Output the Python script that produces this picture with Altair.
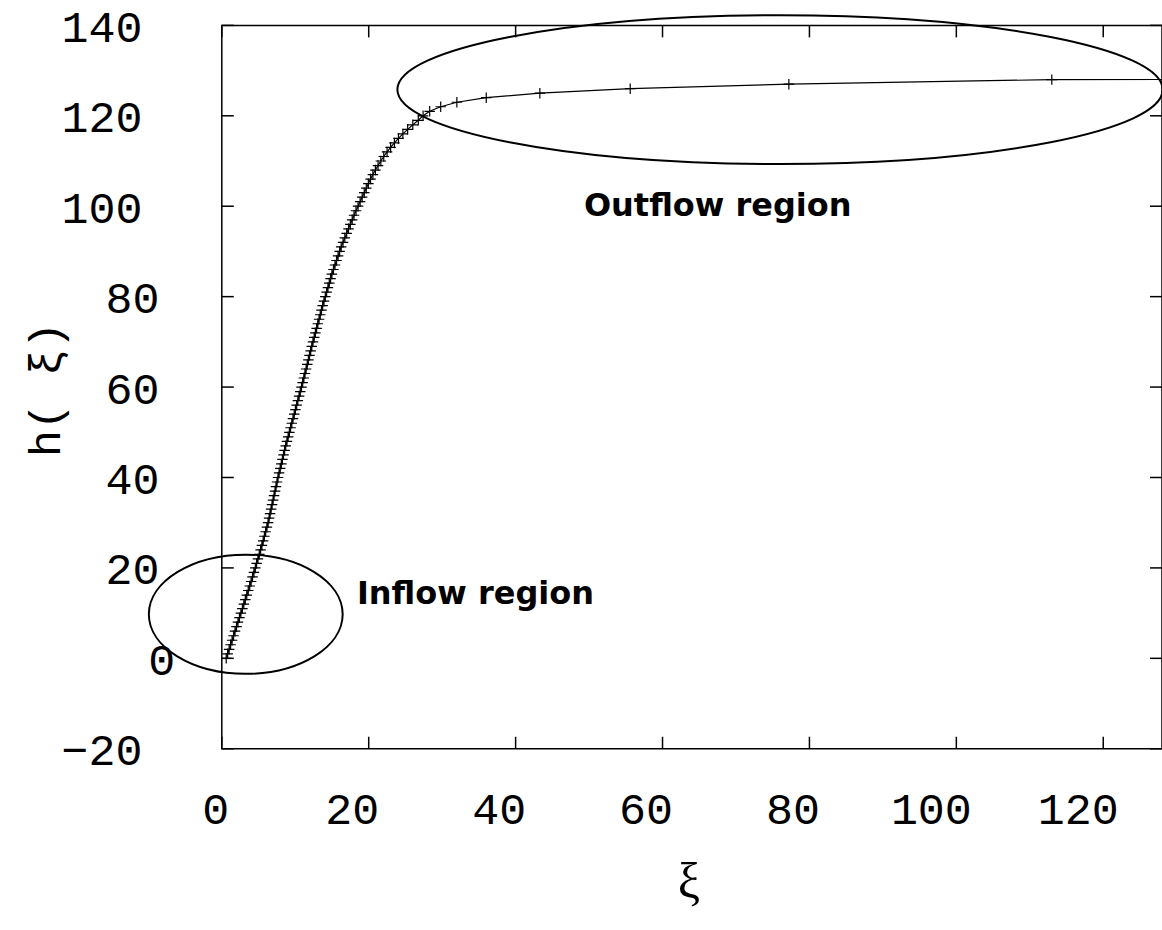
import altair as alt
import pandas as pd

# ---- data ----
H = [0, 1, 2, 3, 4, 5, 6, 7, 8, 9, 10, 11, 12, 13, 14, 15, 16, 17, 18, 19,
     20, 21, 22, 23, 24, 25, 26, 27, 28, 29, 30, 31, 32, 33, 34, 35, 36, 37, 38, 39,
     40, 41, 42, 43, 44, 45, 46, 47, 48, 49, 50, 51, 52, 53, 54, 55, 56, 57, 58, 59,
     60, 61, 62, 63, 64, 65, 66, 67, 68, 69, 70, 71, 72, 73, 74, 75, 76, 77, 78, 79,
     80, 81, 82, 83, 84, 85, 86, 87, 88, 89, 90, 91, 92, 93, 94, 95, 96, 97, 98, 99,
     100, 101, 102, 103, 104, 105, 106, 107, 108, 109, 110, 111, 112, 113, 114, 115,
     116, 117, 118, 119, 120, 121, 122, 123, 124, 125, 126, 127, 128]
XI = [0.6, 0.8, 1.0, 1.2, 1.4, 1.6, 1.8, 2.0, 2.2, 2.4, 2.6, 2.8, 3.0, 3.2, 3.4, 3.6,
      3.8, 3.99, 4.18, 4.37, 4.56, 4.74, 4.92, 5.1, 5.28, 5.46, 5.63, 5.8, 5.97, 6.14,
      6.3, 6.44, 6.57, 6.71, 6.84, 6.98, 7.11, 7.25, 7.38, 7.52, 7.65, 7.8, 7.95, 8.1,
      8.25, 8.4, 8.55, 8.7, 8.87, 9.03, 9.2, 9.36, 9.53, 9.69, 9.86, 10.02, 10.19, 10.35,
      10.52, 10.68, 10.85, 11.01, 11.17, 11.32, 11.48, 11.63, 11.79, 11.94, 12.1, 12.25,
      12.41, 12.58, 12.74, 12.91, 13.07, 13.24, 13.4, 13.57, 13.73, 13.91, 14.09, 14.27,
      14.45, 14.63, 14.81, 14.99, 15.2, 15.41, 15.62, 15.83, 16.04, 16.25, 16.5, 16.75,
      17.0, 17.25, 17.5, 17.75, 18.0, 18.27, 18.55, 18.83, 19.11, 19.39, 19.67, 19.95,
      20.25, 20.57, 20.91, 21.27, 21.65, 22.05, 22.5, 22.98, 23.5, 24.05, 24.65, 25.3,
      26.0, 26.75, 27.4, 28.3, 29.8, 32.0, 36.0, 43.3, 55.6, 77.2, 113.0]
# line continues beyond the visible frame
TAIL_XI = [200.0]
TAIL_H = [128.2]

X_TICKS = [0, 20, 40, 60, 80, 100, 120]
Y_TICKS = [-20, 0, 20, 40, 60, 80, 100, 120, 140]

ANNOT_TEXT = ["Outflow region", "Inflow region"]
ANNOT_XI = [49.3, 18.4]
ANNOT_H = [97.9, 12.1]

# ellipse centres (data units)
OUT_XI, OUT_H = [76.0], [125.8]
IN_XI, IN_H = [3.26], [9.75]

# ---- layout / style ----
W, HT = 941, 724
XDOM = [0, 128]
YDOM = [-20, 140]


def ellipse_path(r):
    k = 0.5523
    kr = k * r
    return (f"M-1,0C-1,{-kr:.4f},{-k},{-r:.4f},0,{-r:.4f}"
            f"C{k},{-r:.4f},1,{-kr:.4f},1,0"
            f"C1,{kr:.4f},{k},{r:.4f},0,{r:.4f}"
            f"C{-k},{r:.4f},-1,{kr:.4f},-1,0Z")


pts = pd.DataFrame({"xi": XI, "h": H})
line_df = pd.DataFrame({"xi": XI + TAIL_XI, "h": H + TAIL_H})
xt = pd.DataFrame({"xi": X_TICKS})
yt = pd.DataFrame({"h": Y_TICKS})
ann = pd.DataFrame({"t": ANNOT_TEXT, "xi": ANNOT_XI, "h": ANNOT_H})
out_e = pd.DataFrame({"xi": OUT_XI, "h": OUT_H})
in_e = pd.DataFrame({"xi": IN_XI, "h": IN_H})

xs = alt.Scale(domain=XDOM, nice=False, zero=False)
ys = alt.Scale(domain=YDOM, nice=False, zero=False)

x_axis = alt.Axis(
    values=X_TICKS, grid=False, domain=False, ticks=False, tickSize=0,
    labelFont="Liberation Mono", labelFontSize=45, labelColor="black",
    labelAlign="left", labelBaseline="middle", labelPadding=61,
    labelOffset={"condition": [{"test": "length(datum.label) >= 3", "value": -66},
                               {"test": "length(datum.label) == 2", "value": -44}],
                 "value": -20},
    labelFlush=False, labelOverlap=False, labelBound=False,
    title="ξ", titleFont="Liberation Serif", titleFontSize=50,
    titleFontWeight="normal", titleColor="black",
    titleX=467, titleY=134, titleAlign="center", titleBaseline="middle",
)
y_axis = alt.Axis(
    values=Y_TICKS, grid=False, domain=False, ticks=False, tickSize=0,
    labelFont="Liberation Mono", labelFontSize=45, labelColor="black",
    labelAlign="right", labelBaseline="middle", labelOffset=2,
    labelPadding={"condition": [{"test": "length(datum.label) >= 3", "value": 80},
                                {"test": "length(datum.label) == 2", "value": 63}],
                  "value": 47},
    labelFlush=False, labelOverlap=False, labelBound=False,
    title="h( ξ)", titleFont="Liberation Mono", titleFontSize=45,
    titleFontWeight="normal", titleColor="black", titleAngle=270,
    titleX=-176, titleY=364, titleAlign="center", titleBaseline="middle",
)

X = alt.X("xi:Q", scale=xs, axis=x_axis)
Y = alt.Y("h:Q", scale=ys, axis=y_axis)

line = alt.Chart(line_df).mark_line(color="black", strokeWidth=1.2, clip=True).encode(
    x=X, y=Y, order="h:Q",
)
marks = alt.Chart(pts).mark_point(
    shape="M-1,0L1,0M0,-1L0,1", size=110, filled=False, stroke="black",
    strokeWidth=1.2, opacity=1,
).encode(x=X, y=Y)

outflow = alt.Chart(out_e).mark_point(
    shape=ellipse_path(0.1945), size=766 ** 2, filled=False, stroke="black",
    strokeWidth=2, opacity=1,
).encode(x=X, y=Y)
inflow = alt.Chart(in_e).mark_point(
    shape=ellipse_path(0.615), size=194 ** 2, filled=False, stroke="black",
    strokeWidth=2, opacity=1,
).encode(x=X, y=Y)

labels = alt.Chart(ann).mark_text(
    font="DejaVu Sans", fontWeight="bold", fontSize=32, align="left",
    baseline="alphabetic", color="black",
).encode(x=X, y=Y, text="t:N")

tk = dict(color="black", strokeWidth=1.5)
xt_bot = alt.Chart(xt).mark_rule(**tk).encode(
    x=X, y=alt.value(HT), y2=alt.value(HT - 12))
xt_top = alt.Chart(xt).mark_rule(**tk).encode(
    x=X, y=alt.value(0), y2=alt.value(12))
yt_left = alt.Chart(yt).mark_rule(**tk).encode(
    y=Y, x=alt.value(0), x2=alt.value(12))
yt_right = alt.Chart(yt).mark_rule(**tk).encode(
    y=Y, x=alt.value(W), x2=alt.value(W - 12))

chart = alt.layer(
    line, marks, outflow, inflow, labels, xt_bot, xt_top, yt_left, yt_right
).properties(
    width=W, height=HT,
    autosize=alt.AutoSizeParams(type="none"),
    padding={"left": 222, "top": 25, "right": 0, "bottom": 181},
    background="white",
).configure_view(stroke="black", strokeWidth=1.5)

chart.save("out.html", embed_options={"renderer": "svg", "actions": False})
